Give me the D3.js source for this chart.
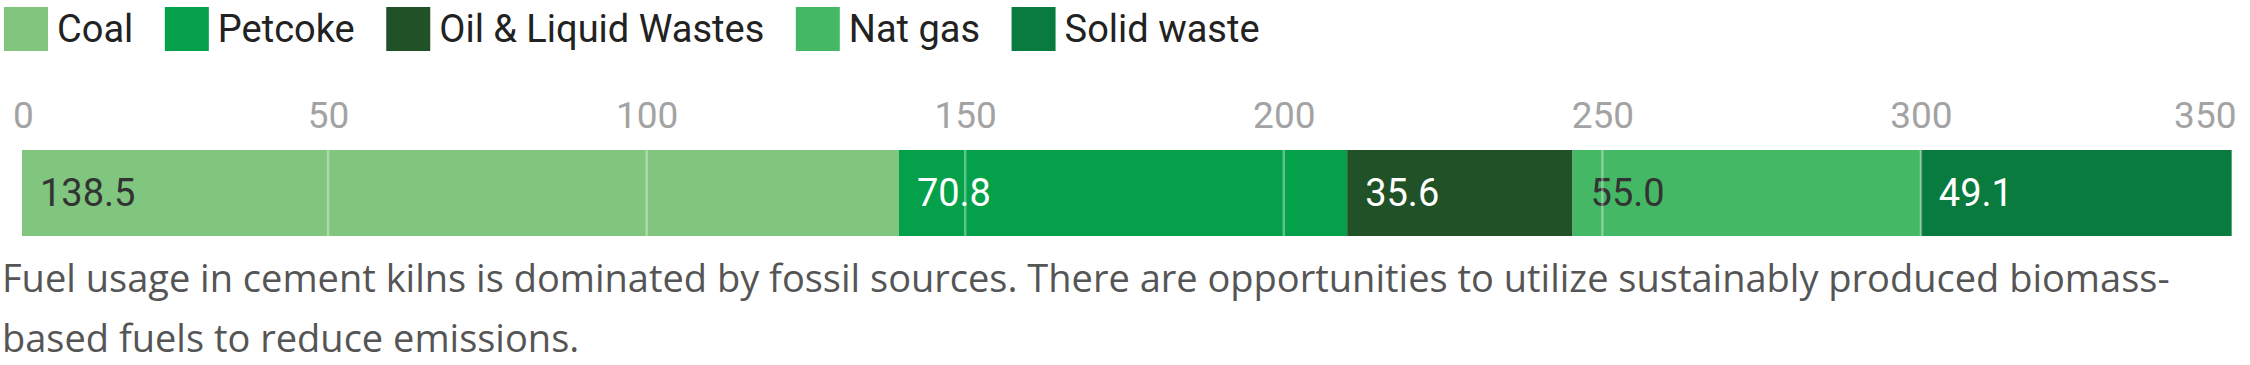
<!DOCTYPE html>
<html>
<head>
<meta charset="utf-8">
<script src="https://cdn.jsdelivr.net/npm/d3@7"></script>
<style>
  html, body { margin: 0; padding: 0; background: #fff; }
  svg { display: block; }
</style>
</head>
<body>
<svg id="chart"></svg>
<script>
// data
const categories = ["Coal", "Petcoke", "Oil & Liquid Wastes", "Nat gas", "Solid waste"];
const values = [138.5, 70.8, 35.6, 55.0, 49.1];
const colors = ["#80c67f", "#04a14a", "#215227", "#45b865", "#0a7b3e"];
const labelColors = ["#333333", "#ffffff", "#ffffff", "#333333", "#ffffff"];
const tickValues = [0, 50, 100, 150, 200, 250, 300, 350];
const captionLines = [
  "Fuel usage in cement kilns is dominated by fossil sources. There are opportunities to utilize sustainably produced biomass-",
  "based fuels to reduce emissions."
];

const width = 2250, height = 365;
const svg = d3.select("#chart").attr("width", width).attr("height", height);

//layout
const legendTop = 7, swatch = 44;
const barTop = 150, barHeight = 86;
const axisBaseline = 128;

const row = {};
categories.forEach((c, i) => row[c] = values[i]);
const series = d3.stack().keys(categories)([row]);

const color = d3.scaleOrdinal().domain(categories).range(colors);
const labelColor = d3.scaleOrdinal().domain(categories).range(labelColors);

// bars and gridlines don't share the exact same origin in the original
const xBar = d3.scaleLinear().domain([0, 350]).range([22, 2238]);
const xGrid = d3.scaleLinear().domain([0, 350]).range([9.5, 2239.5]);

/** legend */
const legend = svg.append("g").attr("class", "legend");
let lx = 4;
categories.forEach((c) => {
  const item = legend.append("g").attr("transform", `translate(${lx},${legendTop})`);
  item.append("rect")
    .attr("width", swatch).attr("height", swatch)
    .attr("fill", color(c));
  const t = item.append("text")
    .attr("x", swatch + 9)
    .attr("y", 35)
    .attr("font-family", "Roboto")
    .attr("font-size", 38)
    .attr("fill", "#222")
    .text(c);
  lx += swatch + 9 + t.node().getComputedTextLength() + 31.5;
});

/** axis labels */
const axis = svg.append("g")
  .attr("transform", `translate(0,${axisBaseline})`)
  .call(d3.axisTop(xGrid).tickValues(tickValues).tickSize(0).tickPadding(0));
axis.select(".domain").remove();
axis.selectAll("text")
  .attr("font-family", "Roboto")
  .attr("font-size", 37)
  .attr("fill", "#a3a3a3")
  .attr("text-anchor", (d, i) => i === 0 ? "start" : i === tickValues.length - 1 ? "end" : "middle")
  .attr("x", (d, i) => i === 0 ? 12.5 - xGrid(d) : i === tickValues.length - 1 ? 2236 - xGrid(d) : 0);

/** bars */
const bars = svg.append("g");
bars.selectAll("rect")
  .data(series)
  .join("rect")
  .attr("x", d => xBar(d[0][0]))
  .attr("width", d => xBar(d[0][1]) - xBar(d[0][0]))
  .attr("y", barTop)
  .attr("height", barHeight)
  .attr("fill", d => color(d.key));

// gridlines on top of the bar
svg.append("g")
  .selectAll("line")
  .data(tickValues.filter(v => v > 0 && v < 350))
  .join("line")
  .attr("x1", d => xGrid(d)).attr("x2", d => xGrid(d))
  .attr("y1", barTop).attr("y2", barTop + barHeight)
  .attr("stroke", "#fff")
  .attr("stroke-opacity", 0.35)
  .attr("stroke-width", 2.5);

bars.selectAll("text")
  .data(series)
  .join("text")
  .attr("x", d => xBar(d[0][0]) + 18)
  .attr("y", barTop + barHeight / 2)
  .attr("dy", "0.35em")
  .attr("font-family", "Roboto")
  .attr("font-size", 38)
  .attr("fill", d => labelColor(d.key))
  .text(d => d3.format(".1f")(d[0][1] - d[0][0]));

/** caption */
svg.append("text")
  .attr("font-family", "Open Sans")
  .attr("font-size", 38)
  .attr("fill", "#555")
  .selectAll("tspan")
  .data(captionLines)
  .join("tspan")
  .attr("x", 2)
  .attr("y", (d, i) => 292 + i * 60)
  .text(d => d);
</script>
</body>
</html>
